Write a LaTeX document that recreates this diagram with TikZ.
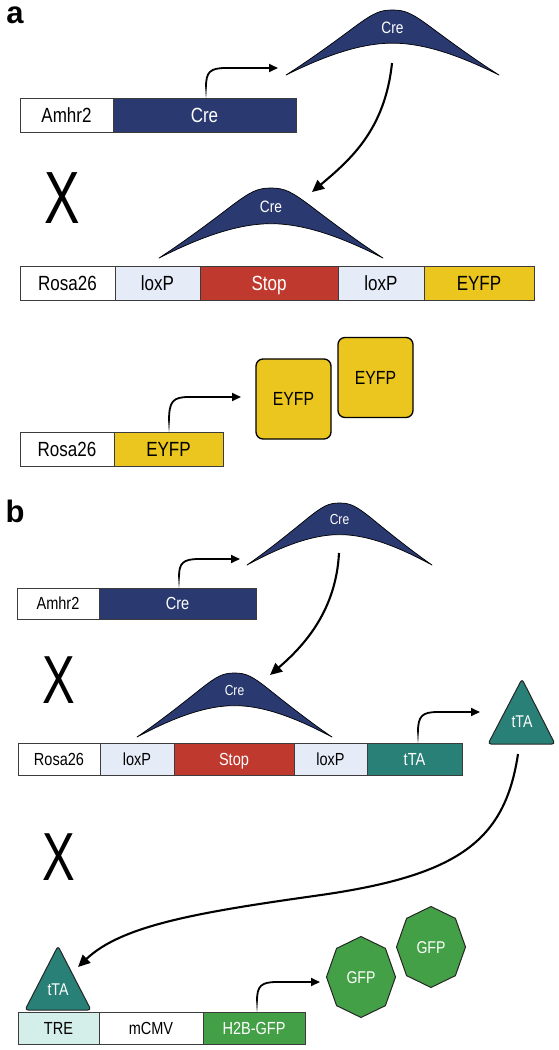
\documentclass[tikz,border=0pt]{standalone}
\usepackage{fontspec}
\setmainfont{Liberation Sans}
\newfontfamily\cond{Liberation Sans}[FakeStretch=0.83]
\newfontfamily\xf{Liberation Sans}[FakeStretch=0.72]
\usetikzlibrary{arrows.meta}
\definecolor{navy}{RGB}{42,57,112}
\definecolor{loxcol}{RGB}{230,235,248}
\definecolor{stopcol}{RGB}{192,57,46}
\definecolor{yelcol}{RGB}{234,198,30}
\definecolor{ttacol}{RGB}{40,128,118}
\definecolor{trecol}{RGB}{212,238,233}
\definecolor{gfpcol}{RGB}{67,160,71}
\definecolor{edge}{RGB}{60,60,60}
\tikzset{
  gene/.style={draw=edge, line width=1pt, inner sep=0pt, outer sep=0pt, anchor=north west, text depth=0pt},
  ga/.style={gene, minimum height=34pt, font=\cond\fontsize{20.5pt}{21pt}\selectfont, text height=14.7pt},
  gb/.style={gene, minimum height=32pt, font=\cond\fontsize{17.5pt}{18pt}\selectfont, text height=12.5pt},
  prom/.style={line width=1.8pt, -{Triangle[length=9pt,width=8pt]}},
  bigarrow/.style={line width=2.1pt, -{Triangle[length=12pt,width=11pt]}},
  protxt/.style={inner sep=0pt, text depth=0pt, font=\cond\fontsize{17pt}{17pt}\selectfont, text height=12.2pt},
  eyfpbox/.style={draw=black, line width=1.3pt, fill=yelcol, rounded corners=7pt, minimum width=75pt, minimum height=80pt, inner sep=0pt, text height=13.6pt, text depth=0pt, font=\cond\fontsize{19pt}{19pt}\selectfont},
  octo/.style={fill=gfpcol, draw=black!85, line width=1pt},
  trishape/.style={fill=ttacol, draw=black!85, line width=1pt, rounded corners=3pt},
  bigx/.style={inner sep=0pt, font=\xf\fontsize{#1}{#1}\selectfont},
  panellab/.style={inner sep=0pt, font=\bfseries\fontsize{31pt}{31pt}\selectfont},
}
\newcommand\creprot[6]{%
  \begin{scope}[shift={(#2,#3)}, xscale=#4, yscale=#5]
    \filldraw[fill=navy, draw=black, line width=0.7pt, line join=round]
      (0,0) .. controls (0.12,-0.25) and (0.24,-0.54) .. (0.33,-0.76)
      .. controls (0.41,-0.95) and (0.44,-1.0) .. (0.5,-1.0)
      .. controls (0.56,-1.0) and (0.59,-0.95) .. (0.67,-0.76)
      .. controls (0.76,-0.54) and (0.88,-0.25) .. (1,0)
      .. controls (0.85,-0.24) and (0.67,-0.49) .. (0.5,-0.49)
      .. controls (0.33,-0.49) and (0.15,-0.24) .. (0,0) -- cycle;
    \node[text=white, inner sep=0pt, text depth=0pt, font=\cond\fontsize{#6pt}{#6pt}\selectfont] (#1) at (0.5,-0.73) {Cre};
  \end{scope}}
\newcommand\promarrow[5]{%
  \coordinate (#5s) at (#1,#2);
  \coordinate (#5e) at (#4,#3);
  \draw[prom] (#1,#2-11) .. controls (#1,#3+4) and (#1+4,#3) .. (#1+20,#3) -- (#5e);
  \foreach \i/\c in {0/12,1/28,2/45,3/62,4/80}
    \draw[line width=1.8pt, black!\c] (#1,#2-2.2*\i) -- (#1,#2-2.2*\i-2.5);
}
\begin{document}
\begin{tikzpicture}[x=1pt,y=-1pt]
\useasboundingbox (0,0) rectangle (559,1050);
\fill[white] (0,0) rectangle (559,1050);

% ---------------- panel a ----------------
\node[panellab] (laba) at (15,15) {a};

\node[ga, fill=white, minimum width=93pt] (a1p) at (20,98) {Amhr2};
\node[ga, fill=navy, text=white, minimum width=183pt] (a1c) at (a1p.north east) {Cre};
\promarrow{206}{98}{68}{278}{pa1}

\creprot{creA1}{286}{75}{213}{65}{16.5}

\node[bigx=74pt] (xa) at (62,198) {X};

\creprot{creA2}{159}{258}{224}{70}{16.5}
\coordinate (arA1) at (392,63);
\coordinate (arA2) at (312,192);
\draw[bigarrow] (arA1) .. controls (385,130) and (350,160) .. (arA2);

\node[ga, fill=white, minimum width=95pt] (a2r) at (20,266) {Rosa26};
\node[ga, fill=loxcol, minimum width=85pt] (a2l1) at (a2r.north east) {loxP};
\node[ga, fill=stopcol, text=white, minimum width=138pt] (a2s) at (a2l1.north east) {Stop};
\node[ga, fill=loxcol, minimum width=86pt] (a2l2) at (a2s.north east) {loxP};
\node[ga, fill=yelcol, minimum width=110pt] (a2e) at (a2l2.north east) {EYFP};

\node[ga, fill=white, minimum width=94pt] (a3r) at (20,432) {Rosa26};
\node[ga, fill=yelcol, minimum width=109pt] (a3e) at (a3r.north east) {EYFP};
\promarrow{169}{432}{397}{241}{pa3}

\node[eyfpbox] (ey1) at (293.5,399) {EYFP};
\node[eyfpbox] (ey2) at (375.5,377.5) {EYFP};

% ---------------- panel b ----------------
\node[panellab] (labb) at (15,511) {b};

\node[gb, fill=white, minimum height=31pt, minimum width=82pt] (b1p) at (17,588) {Amhr2};
\node[gb, fill=navy, text=white, minimum height=31pt, minimum width=157pt] (b1c) at (b1p.north east) {Cre};
\promarrow{179}{588}{559}{240}{pb1}

\creprot{creB1}{247}{565}{185}{62}{14.5}

\node[bigx=68pt] (xb1) at (59,680) {X};

\creprot{creB2}{137}{737}{195}{64}{14.5}
\coordinate (arB1) at (339,553);
\coordinate (arB2) at (270,675);
\draw[bigarrow] (arB1) .. controls (336,610) and (305,645) .. (arB2);

\node[gb, fill=white, minimum width=82pt] (b2r) at (18,743) {Rosa26};
\node[gb, fill=loxcol, minimum width=74pt] (b2l1) at (b2r.north east) {loxP};
\node[gb, fill=stopcol, text=white, minimum width=120pt] (b2s) at (b2l1.north east) {Stop};
\node[gb, fill=loxcol, minimum width=73pt] (b2l2) at (b2s.north east) {loxP};
\node[gb, fill=ttacol, text=white, minimum width=95pt] (b2t) at (b2l2.north east) {tTA};
\promarrow{418}{743}{712}{480}{pb2}

\filldraw[trishape] (488,744) -- (522,679) -- (555,744) -- cycle;
\node[protxt, text=white] (ttaP) at (522,721) {tTA};

\node[bigx=68pt] (xb2) at (59,857) {X};

\coordinate (arS1) at (518,754);
\coordinate (arS2) at (78,967);
\draw[bigarrow] (arS1) .. controls (505,840) and (460,875) .. (321,895) .. controls (200,912) and (122,925) .. (arS2);

\filldraw[trishape] (25,1010) -- (58,946) -- (91,1010) -- cycle;
\node[protxt, text=white] (ttaB) at (58,989) {tTA};

\node[gb, fill=trecol, minimum width=81pt] (b3t) at (18,1012) {TRE};
\node[gb, fill=white, minimum width=104pt] (b3m) at (b3t.north east) {mCMV};
\node[gb, fill=gfpcol, text=white, minimum width=102pt] (b3g) at (b3m.north east) {H2B-GFP};
\promarrow{257}{1012}{982}{320}{pb3}

\begin{scope}[shift={(361,977)}]
  \filldraw[octo]
    (0:34.5 and 40.5) -- (45:34.5 and 40.5) -- (90:34.5 and 40.5) -- (135:34.5 and 40.5) -- (180:34.5 and 40.5) -- (225:34.5 and 40.5) -- (270:34.5 and 40.5) -- (315:34.5 and 40.5) -- cycle;
  \node[protxt, text=white] (gfp1) at (0,0) {GFP};
\end{scope}
\begin{scope}[shift={(431,947)}]
  \filldraw[octo]
    (0:34.5 and 40.5) -- (45:34.5 and 40.5) -- (90:34.5 and 40.5) -- (135:34.5 and 40.5) -- (180:34.5 and 40.5) -- (225:34.5 and 40.5) -- (270:34.5 and 40.5) -- (315:34.5 and 40.5) -- cycle;
  \node[protxt, text=white] (gfp2) at (0,0) {GFP};
\end{scope}
\end{tikzpicture}
\end{document}
